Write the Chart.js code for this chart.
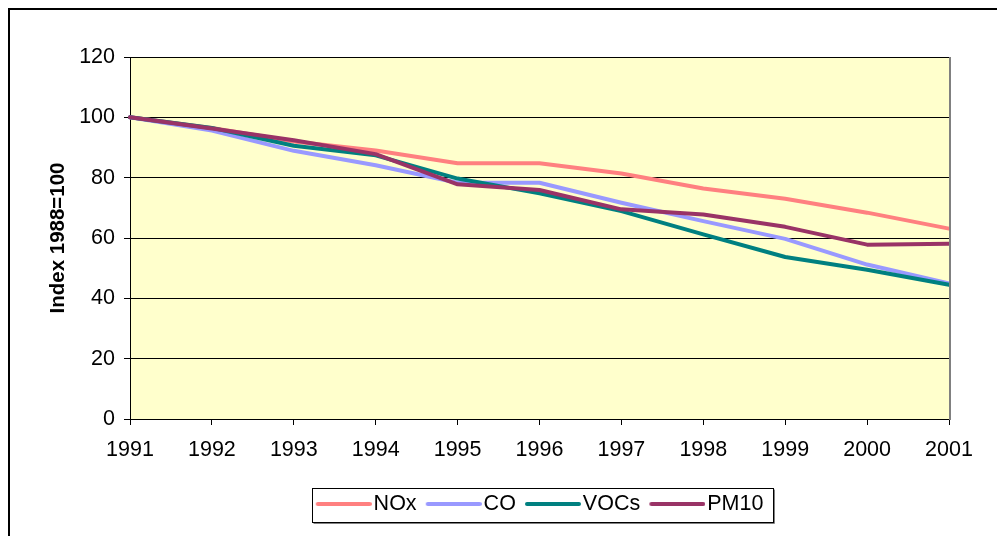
<!DOCTYPE html>
<html><head><meta charset="utf-8">
<script src="https://cdn.jsdelivr.net/npm/chart.js@4/dist/chart.umd.min.js"></script>
<style>html,body{margin:0;padding:0;background:#fff;overflow:hidden}canvas{display:block}</style>
</head><body>
<canvas id="c" width="997" height="536"></canvas>
<script>
const years = ['1991','1992','1993','1994','1995','1996','1997','1998','1999','2000','2001'];
const yTicks = [0, 20, 40, 60, 80, 100, 120];
const nox  = [100, 96.5, 92.0, 89.0, 84.8, 84.8, 81.4, 76.4, 73.0, 68.4, 63.1];
const co   = [100, 95.6, 88.9, 84.1, 78.3, 78.3, 71.7, 65.6, 59.7, 51.2, 44.9];
const vocs = [100, 96.5, 90.6, 87.4, 79.7, 74.8, 68.9, 61.2, 53.7, 49.5, 44.5];
const pm10 = [100, 96.3, 92.4, 87.8, 77.8, 75.9, 69.5, 67.8, 63.7, 57.8, 58.1];
const seriesNames = ['NOx', 'CO', 'VOCs', 'PM10'];
const yTitle = 'Index 1988=100';

Chart.defaults.font.family = "'Liberation Sans', Arial, sans-serif";
Chart.defaults.color = '#000';

function legendLine(color) {
  const c = document.createElement('canvas');
  c.width = 65; c.height = 6;
  const g = c.getContext('2d');
  g.strokeStyle = color; g.lineWidth = 4; g.lineCap = 'round';
  g.beginPath(); g.moveTo(11, 3); g.lineTo(63, 3); g.stroke();
  return c;
}

const frame = {
  id: 'frame',
  beforeDraw(chart) {
    const {ctx, chartArea: a} = chart;
    ctx.save();
    ctx.fillStyle = '#fff';
    ctx.fillRect(0, 0, chart.width, chart.height);
    ctx.fillStyle = '#FFFFCC';
    ctx.fillRect(a.left, a.top, a.right - a.left, a.bottom - a.top);
    ctx.strokeStyle = '#000';
    ctx.lineWidth = 2;
    ctx.strokeRect(9, 9, chart.width + 20, chart.height + 20);
    ctx.restore();
  },
  afterDatasetsDraw(chart) {
    const {ctx, chartArea: a} = chart;
    ctx.save();
    ctx.fillStyle = '#808080';
    ctx.fillRect(a.right, a.top, 2, a.bottom - a.top + 1);
    ctx.restore();
  },
  afterDraw(chart) {
    const hb = chart.legend && chart.legend.legendHitBoxes;
    if (!hb || !hb.length) return;
    const {ctx} = chart;
    const last = hb[hb.length - 1];
    const l = Math.round(hb[0].left - 4) + 0.5;
    const r = Math.round(last.left + last.width + 10) + 0.5;
    const t = Math.round(hb[0].top - 5) + 0.5;
    const b = Math.round(hb[0].top + hb[0].height + 7.5) + 0.5;
    ctx.save();
    ctx.strokeStyle = '#808080';
    ctx.lineWidth = 1;
    ctx.beginPath();
    ctx.moveTo(l + 1, b + 1); ctx.lineTo(r + 1, b + 1); ctx.lineTo(r + 1, t + 1);
    ctx.stroke();
    ctx.strokeStyle = '#000';
    ctx.strokeRect(l, t, r - l, b - t);
    ctx.restore();
  }
};

const colors = ['#FF8080', '#9999FF', '#008080', '#993366'];
const imgs = colors.map(legendLine);

function ds(label, data, color, order) {
  return {label, data, borderColor: color, backgroundColor: color, borderWidth: 4,
    pointRadius: 0, pointHoverRadius: 0, tension: 0, fill: false,
    borderCapStyle: 'round', borderJoinStyle: 'round', order};
}

new Chart(document.getElementById('c'), {
  type: 'line',
  data: {
    labels: years,
    datasets: [
      ds(seriesNames[0], nox, colors[0], 4),
      ds(seriesNames[1], co, colors[1], 3),
      ds(seriesNames[2], vocs, colors[2], 2),
      ds(seriesNames[3], pm10, colors[3], 1)
    ]
  },
  options: {
    responsive: false,
    animation: false,
    events: [],
    layout: {padding: {top: 57, right: 48, bottom: 11.25, left: 0}},
    plugins: {
      tooltip: {enabled: false},
      legend: {
        position: 'bottom',
        fullSize: false,
        labels: {
          usePointStyle: true,
          pointStyleWidth: 47.25,
          padding: 9,
          font: {size: 21.5},
          color: '#000',
          sort: (a, b) => a.datasetIndex - b.datasetIndex,
          generateLabels: (chart) => Chart.defaults.plugins.legend.labels.generateLabels(chart)
            .map(it => Object.assign(it, {pointStyle: imgs[it.datasetIndex]}))
        }
      }
    },
    scales: {
      x: {
        type: 'category',
        offset: false,
        afterFit: (s) => { s.height = 65.25; },
        grid: {display: true, drawOnChartArea: false, drawTicks: true, tickLength: 6, tickColor: '#000'},
        border: {display: true, color: '#000', width: 1},
        ticks: {font: {size: 21.5}, color: '#000', padding: 12, maxRotation: 0, autoSkip: false}
      },
      y: {
        min: yTicks[0],
        max: yTicks[yTicks.length - 1],
        afterFit: (s) => { s.width = 130; },
        afterBuildTicks: (s) => { s.ticks = yTicks.map(v => ({value: v})); },
        grid: {color: '#000', lineWidth: 1, drawTicks: true, tickLength: 6, tickColor: '#000'},
        border: {display: true, color: '#000', width: 1},
        ticks: {font: {size: 21.5}, color: '#000', padding: 9},
        title: {display: true, text: yTitle, font: {size: 20.5, weight: 'bold'}, color: '#000', padding: {top: 45.7, bottom: 0}}
      }
    }
  },
  plugins: [frame]
});
</script>
</body></html>
